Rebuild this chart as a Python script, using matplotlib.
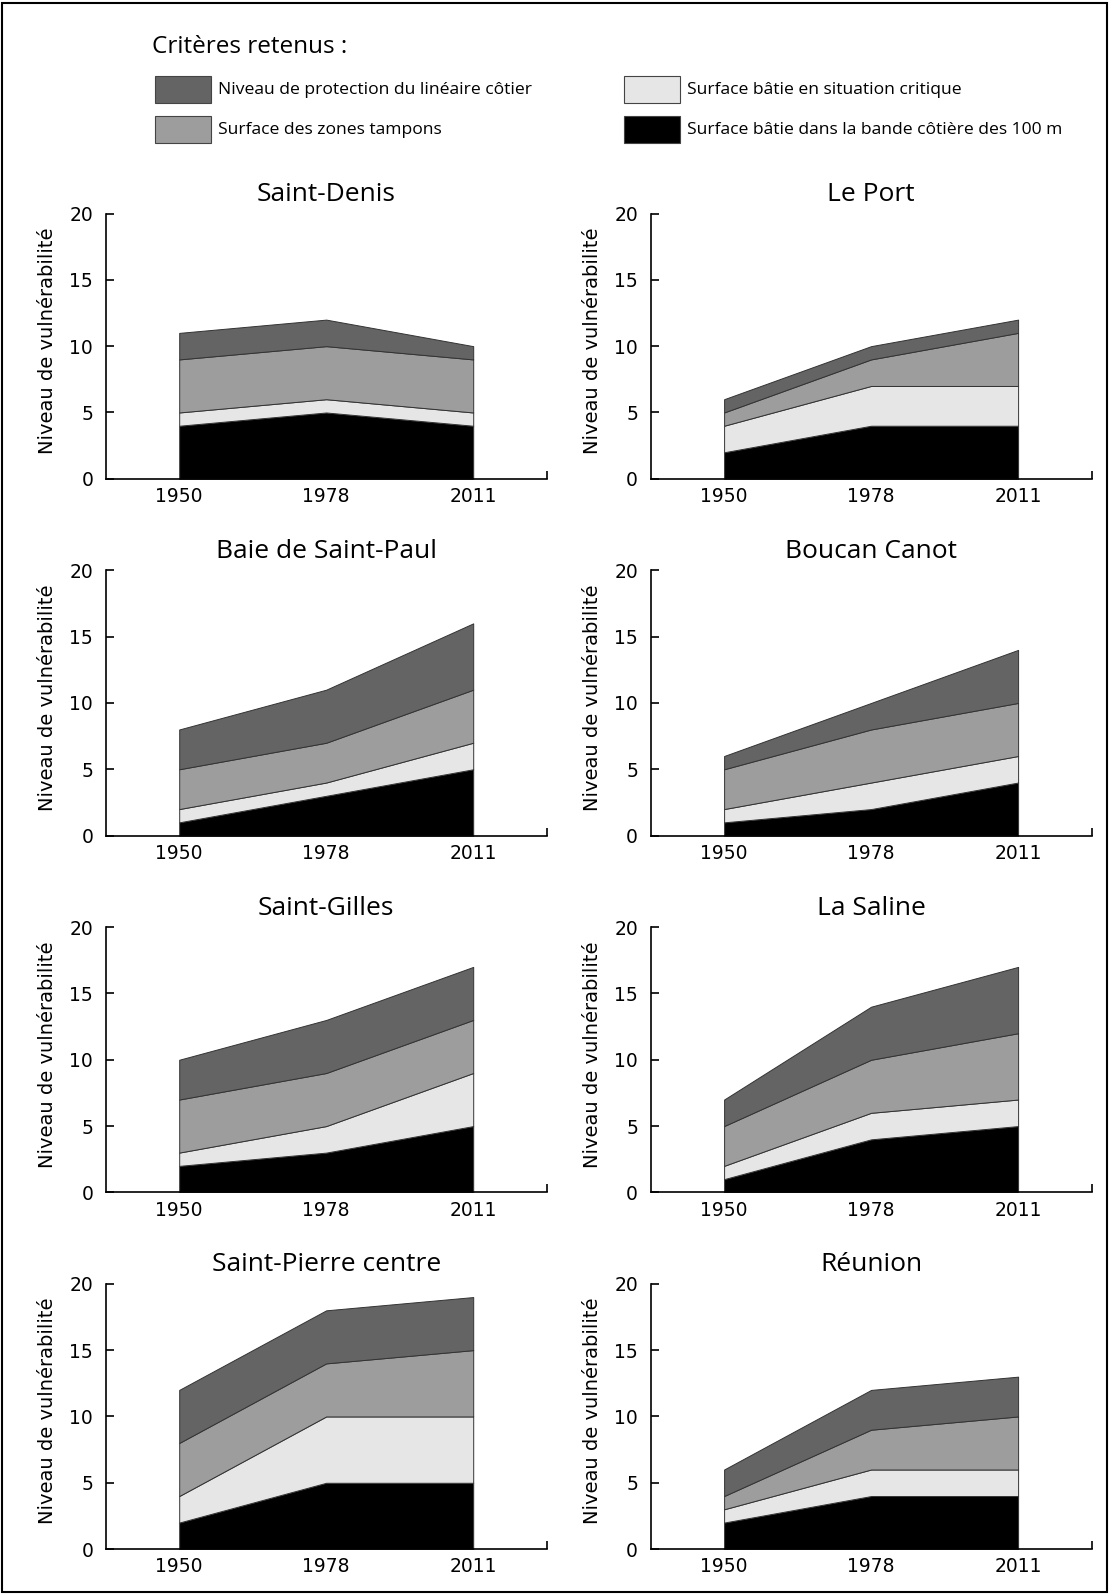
import numpy as np
import matplotlib
matplotlib.use('Agg')
import matplotlib.pyplot as plt
from matplotlib.patches import Rectangle

# series, bottom to top of each stack
series_names = ['Surface bâtie dans la bande côtière des 100 m',
                'Surface bâtie en situation critique',
                'Surface des zones tampons',
                'Niveau de protection du linéaire côtier']
series_colors = ['#000000', '#e6e6e6', '#9d9d9d', '#646464']

years = ['1950', '1978', '2011']

sites = ['Saint-Denis', 'Le Port', 'Baie de Saint-Paul', 'Boucan Canot',
         'Saint-Gilles', 'La Saline', 'Saint-Pierre centre', 'Réunion']

# values per site: [bande 100 m, situation critique, zones tampons, protection]
saint_denis = [[4, 5, 4], [1, 1, 1], [4, 4, 4], [2, 2, 1]]
le_port = [[2, 4, 4], [2, 3, 3], [1, 2, 4], [1, 1, 1]]
baie_saint_paul = [[1, 3, 5], [1, 1, 2], [3, 3, 4], [3, 4, 5]]
boucan_canot = [[1, 2, 4], [1, 2, 2], [3, 4, 4], [1, 2, 4]]
saint_gilles = [[2, 3, 5], [1, 2, 4], [4, 4, 4], [3, 4, 4]]
la_saline = [[1, 4, 5], [1, 2, 2], [3, 4, 5], [2, 4, 5]]
saint_pierre = [[2, 5, 5], [2, 5, 5], [4, 4, 5], [4, 4, 4]]
reunion = [[2, 4, 4], [1, 2, 2], [1, 3, 4], [2, 3, 3]]

site_values = [saint_denis, le_port, baie_saint_paul, boucan_canot,
               saint_gilles, la_saline, saint_pierre, reunion]

W, H = 1110, 1594
fig = plt.figure(figsize=(W / 100, H / 100), dpi=100)

# frame around the whole figure
fig.patches.append(Rectangle((2 / W, 2 / H), 1 - 5 / W, 1 - 5 / H, transform=fig.transFigure,
                             fill=False, edgecolor='black', linewidth=1.5))

# legend, drawn by hand
fig.text(152 / W, 1 - 47 / H, 'Critères retenus :', fontsize=17.5, family='Open Sans',
         va='center', ha='left')
leg_pos = {3: (155, 76), 2: (155, 116), 1: (624, 76), 0: (624, 116)}
for i, name in enumerate(series_names):
    px, py = leg_pos[i]
    fig.patches.append(Rectangle((px / W, 1 - (py + 27) / H), 56 / W, 27 / H,
                                 transform=fig.transFigure, facecolor=series_colors[i],
                                 edgecolor='#444444', linewidth=0.8))
    fig.text((px + 63) / W, 1 - (py + 13.5) / H, name, fontsize=12.6,
             family='Open Sans', va='center', ha='left')

lefts = [105.7 / W, 650.6 / W]
width = 441 / W
bottoms = [478.8, 835.6, 1192.4, 1549.1]
height = 265.3 / H

x = np.arange(len(years))
for k, (site, vals) in enumerate(zip(sites, site_values)):
    row, col = divmod(k, 2)
    ax = fig.add_axes([lefts[col], 1 - bottoms[row] / H, width, height])
    ax.stackplot(x, *vals, colors=series_colors, edgecolor='#333333', linewidth=0.7)
    ax.set_xlim(-0.5, 2.5)
    ax.set_ylim(0, 20)
    ax.set_xticks(x)
    ax.set_xticklabels(years)
    ax.set_xticks([2.5], minor=True)
    ax.set_yticks([0, 5, 10, 15, 20])
    for s in ['top', 'right']:
        ax.spines[s].set_visible(False)
    for s in ['left', 'bottom']:
        ax.spines[s].set_linewidth(1.2)
    ax.tick_params(axis='x', which='major', length=0, pad=6, labelsize=13.5)
    ax.tick_params(axis='x', which='minor', direction='in', length=6, width=1.2)
    ax.tick_params(axis='y', direction='in', length=6, width=1.2, pad=9, labelsize=13.5)
    ax.set_ylabel('Niveau de vulnérabilité', fontsize=14)
    ax.yaxis.set_label_coords(-0.11, 0.52)
    ax.set_title(site, fontsize=19, family='Open Sans', pad=9)

fig.savefig('out.png', dpi=100)
